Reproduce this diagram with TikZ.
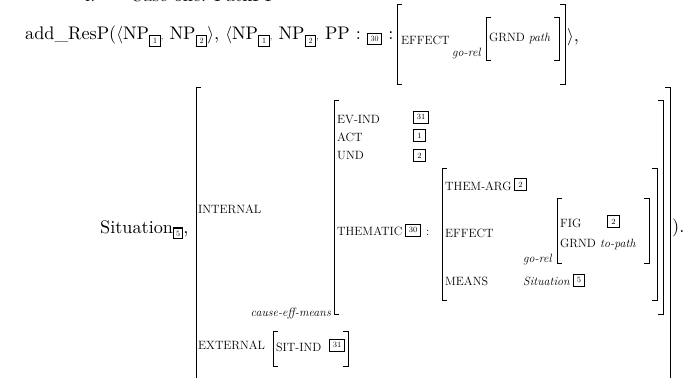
\documentclass[tikz,border=0pt]{standalone}
\usepackage{fontspec}
\newfontfamily\mainfam{lmroman10-regular.otf}[ItalicFont=lmroman10-italic.otf]
\newcommand\mainsz{\mainfam\fontsize{18.2}{22}\selectfont}
\newcommand\labsz{\fontsize{12}{14}\selectfont}
\newcommand\tagin[2]{{\setlength\fboxrule{1.2pt}\setlength\fboxsep{0pt}\fbox{\fontsize{8}{9}\selectfont\makebox[#1]{\rule[-2pt]{0pt}{9.5pt}#2}}}}
\newcommand\stag[1]{\raisebox{-4pt}{\tagin{9.5pt}{#1}}}
\newcommand\scomma{{\fontsize{9}{9}\selectfont,}}
\tikzset{
  x=1pt, y=-1pt,
  brk/.style={line width=0.8pt},
  mainlab/.style={anchor=base west, inner sep=0pt, font=\mainsz},
  lab/.style={anchor=base west, inner sep=0pt, font=\labsz},
  ilab/.style={anchor=base west, inner sep=0pt, font=\labsz\itshape},
  tag/.style={draw, line width=1.2pt, inner sep=0pt, minimum width=12pt, minimum height=12pt, font=\fontsize{8}{9}\selectfont, anchor=south west},
  tagw/.style={tag, minimum width=15pt},
}
\newcommand\lbr[3]{\draw[brk] (#1+5,#2) -- (#1,#2) -- (#1,#3) -- (#1+5,#3);}
\newcommand\rbr[3]{\draw[brk] (#1-5,#2) -- (#1,#2) -- (#1,#3) -- (#1-5,#3);}
\begin{document}
\begin{tikzpicture}
\useasboundingbox (0,0) rectangle (684,377);
\clip (0,0) rectangle (684,377);
% clipped heading
\node[mainlab] (hdrA) at (85,2) {i.};
\node[mainlab] (hdrB) at (130,2) {Case one: PathPP};
% line 1
\node[mainlab] (l1) at (25,40) {add\_ResP($\langle$NP\stag{1}\scomma\ NP\stag{2}$\rangle$, $\langle$NP\stag{1}\scomma\ NP\stag{2}\scomma\ PP : \raisebox{-2pt}{\tagin{13pt}{30}} :};
\lbr{397}{4}{84} \rbr{565}{4}{84}
\node[lab] (eff1) at (401,45) {EFFECT};
\node[ilab] (gorel1) at (452,57) {go-rel};
\lbr{486}{17}{60} \rbr{559}{17}{60}
\node[lab] (grnd1) at (489,42) {GRND \textit{path}};
\node[mainlab] (close1) at (567,42) {$\rangle$,};
% line 2
\node[mainlab] (sit) at (100,233) {Situation\raisebox{-3pt}{\tagin{8pt}{5}},};
\lbr{196}{87}{400} \rbr{670}{87}{400}
\node[lab] (internal) at (198,213) {INTERNAL};
\lbr{334}{100}{314} \rbr{663}{100}{314}
\node[lab] (evind) at (337,123) {EV-IND};
\node[tagw] (t31a) at (413,124) {31};
\node[lab] (act) at (337,141) {ACT};
\node[tag] (t1) at (413,142) {1};
\node[lab] (und) at (337,159) {UND};
\node[tag] (t2a) at (413,162) {2};
\node[lab] (thematic) at (337,235) {THEMATIC};
\node[tagw] (t30) at (405,237) {30};
\node[lab] (colon) at (426,235) {:};
\lbr{442}{168}{300} \rbr{657}{168}{300}
\node[lab] (themarg) at (445,190) {THEM-ARG};
\node[tag] (t2b) at (514,191) {2};
\node[lab] (eff2) at (445,237) {EFFECT};
\lbr{557}{198}{263} \rbr{649}{198}{263}
\node[lab] (fig) at (560,227) {FIG};
\node[tag] (t2c) at (607,228) {2};
\node[lab] (grnd2) at (560,247) {GRND};
\node[ilab] (topath) at (600,247) {to-path};
\node[ilab] (gorel2) at (523,262) {go-rel};
\node[lab] (means) at (445,285) {MEANS};
\node[ilab] (sit2) at (523,285) {Situation};
\node[tag, minimum width=11pt] (t5) at (573,287) {5};
\node[ilab, anchor=base east] (cem) at (331,316) {cause-eff-means};
\node[lab] (external) at (198,349) {EXTERNAL};
\lbr{273}{331}{366} \rbr{348}{331}{366}
\node[lab] (sitind) at (276,351) {SIT-IND};
\node[tagw] (t31b) at (329,352) {31};
\node[mainlab] (close2) at (672,232) {).};
\end{tikzpicture}
\end{document}
